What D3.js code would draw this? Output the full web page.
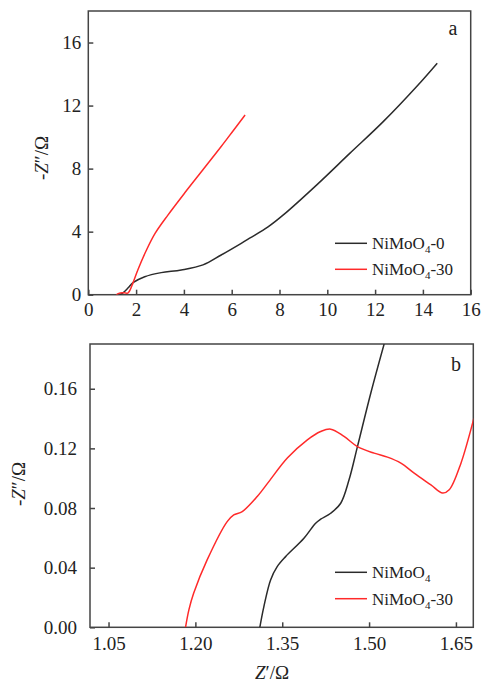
<!DOCTYPE html>
<html>
<head>
<meta charset="utf-8">
<script src="https://cdn.jsdelivr.net/npm/d3@7"></script>
<style>
  body { margin: 0; background: #fff; }
  svg text { font-family: "Liberation Serif", "DejaVu Serif", serif !important; fill: #222; }
</style>
</head>
<body>
<svg id="chart" width="481" height="685"></svg>
<script>
// panel a: full Nyquist plot
const blackAX = [1.31, 1.45, 1.66, 1.87, 2.36, 3.05, 3.89, 4.8, 5.56, 6.4, 6.77, 7.52, 8.16, 9.56, 10.95, 12.34, 13.74, 14.6];
const blackAY = [0, 0.12, 0.42, 0.76, 1.14, 1.4, 1.57, 1.89, 2.52, 3.26, 3.6, 4.3, 5.06, 6.97, 8.98, 10.98, 13.21, 14.69];
const redAX = [1.18, 1.25, 1.43, 1.55, 1.63, 1.68, 1.75, 1.87, 2.08, 2.43, 2.8, 3.33, 4.03, 4.73, 5.56, 6.07, 6.56];
const redAY = [0, 0.07, 0.13, 0.11, 0.09, 0.14, 0.3, 0.75, 1.6, 2.82, 3.9, 5.05, 6.45, 7.8, 9.4, 10.42, 11.4];
const ticksAX = [0, 2, 4, 6, 8, 10, 12, 14, 16];
const ticksAY = [0, 4, 8, 12, 16];
const legendA = ['NiMoO4-0', 'NiMoO4-30'];

// panel b: high frequency zoom
const blackBX = [1.3113, 1.3183, 1.3299, 1.3413, 1.3558, 1.3875, 1.4077, 1.4164, 1.4337, 1.451, 1.4654, 1.4799, 1.5029, 1.526];
const blackBY = [0, 0.0139, 0.0318, 0.0407, 0.0474, 0.0597, 0.0698, 0.0725, 0.0765, 0.0832, 0.0989, 0.1212, 0.157, 0.19];
const redBX = [1.183, 1.189, 1.197, 1.2203, 1.2549, 1.2663, 1.2809, 1.3068, 1.3269, 1.3588, 1.3934, 1.4164, 1.4337, 1.4567, 1.4799, 1.5087, 1.5318, 1.5549, 1.5779, 1.6068, 1.627, 1.6384, 1.6587, 1.6789, 1.681];
const redBY = [0, 0.012, 0.0228, 0.0452, 0.0709, 0.0754, 0.0776, 0.0877, 0.0977, 0.1135, 0.1257, 0.1313, 0.1329, 0.128, 0.1212, 0.1168, 0.1141, 0.1101, 0.1034, 0.0955, 0.09, 0.0922, 0.1101, 0.137, 0.14];
const ticksBX = [1.05, 1.20, 1.35, 1.50, 1.65];
const ticksBY = [0, 0.04, 0.08, 0.12, 0.16];
const legendB = ['NiMoO4', 'NiMoO4-30'];

const colors = ['#2b2b2b', '#ff2a2a'];
const serif = '"Liberation Serif", "DejaVu Serif", serif';
const svg = d3.select('#chart');

function zip(xs, ys) {
  return xs.map((x, i) => [x, ys[i]]);
}

// legend text with subscript 4
function chemText(sel, label) {
  let parts = label.split('4');
  sel.append('tspan').text(parts[0]);
  sel.append('tspan').attr('font-size', 11).attr('dy', 4).text('4');
  sel.append('tspan').attr('dy', -4).text(parts[1]);
}

function drawPanel(opt) {
  let x = d3.scaleLinear().domain(opt.xDomain).range([opt.left, opt.right]);
  let y = d3.scaleLinear().domain(opt.yDomain).range([opt.bottom, opt.top]);
  let g = svg.append('g');

  g.append('clipPath').attr('id', opt.id + '-clip')
    .append('rect')
    .attr('x', opt.left).attr('y', opt.top)
    .attr('width', opt.right - opt.left).attr('height', opt.bottom - opt.top);

  // inward ticks
  let xAxis = g.append('g')
    .attr('transform', 'translate(0,' + opt.bottom + ')')
    .call(d3.axisBottom(x).tickValues(opt.xTicks).tickSizeInner(-5).tickSizeOuter(0)
      .tickFormat(opt.xFormat).tickPadding(opt.xPad));
  let yAxis = g.append('g')
    .attr('transform', 'translate(' + opt.left + ',0)')
    .call(d3.axisLeft(y).tickValues(opt.yTicks).tickSizeInner(-5).tickSizeOuter(0)
      .tickFormat(opt.yFormat).tickPadding(opt.yPad));
  [xAxis, yAxis].forEach(a => {
    a.attr('font-family', serif).attr('font-size', 19);
    a.select('.domain').remove();
    a.selectAll('line').attr('stroke', '#444').attr('stroke-width', 1.5);
    a.selectAll('text').attr('fill', '#222').style('font-family', serif);
  });

  g.append('rect')
    .attr('x', opt.left).attr('y', opt.top)
    .attr('width', opt.right - opt.left).attr('height', opt.bottom - opt.top)
    .attr('fill', 'none').attr('stroke', '#444').attr('stroke-width', 1.5);

  let line = d3.line()
    .x(d => x(d[0]))
    .y(d => y(d[1]))
    .curve(d3.curveCatmullRom.alpha(0.5));

  g.append('g').attr('clip-path', 'url(#' + opt.id + '-clip)')
    .selectAll('path')
    .data(opt.series)
    .enter()
    .append('path')
    .attr('d', d => line(d))
    .attr('fill', 'none')
    .attr('stroke', (d, i) => colors[i])
    .attr('stroke-width', 1.5);

  // legend
  opt.legend.forEach((label, i) => {
    let ly = opt.legendY + i * opt.legendGap;
    g.append('line')
      .attr('x1', 335).attr('x2', 367).attr('y1', ly).attr('y2', ly)
      .attr('stroke', colors[i]).attr('stroke-width', 1.5);
    let t = g.append('text').attr('x', 372).attr('y', ly + 6).attr('font-size', 17);
    chemText(t, label);
  });

  g.append('text')
    .attr('x', opt.letterX).attr('y', opt.letterY)
    .attr('text-anchor', 'middle').attr('font-size', 20)
    .text(opt.letter);

  // y title
  let yt = g.append('text')
    .attr('transform', 'translate(' + opt.yTitleX + ',' + opt.yTitleY + ') rotate(-90)')
    .attr('text-anchor', 'middle').attr('font-size', 19);
  yt.append('tspan').text('-');
  yt.append('tspan').attr('font-style', 'italic').text('Z');
  yt.append('tspan').text('\u2033/\u03a9');
}

drawPanel({
  id: 'a',
  left: 88.3, right: 470.7, top: 11, bottom: 294.7,
  xDomain: [0, 16], yDomain: [0, 18],
  xTicks: ticksAX, yTicks: ticksAY,
  xFormat: d3.format('d'), yFormat: d3.format('d'),
  xPad: 8, yPad: 7,
  series: [zip(blackAX, blackAY), zip(redAX, redAY)],
  legend: legendA, legendY: 243.3, legendGap: 26,
  letter: 'a', letterX: 453, letterY: 35,
  yTitleX: 48, yTitleY: 158
});

drawPanel({
  id: 'b',
  left: 90, right: 473.3, top: 344, bottom: 627.3,
  xDomain: [1.018, 1.68], yDomain: [0, 0.19],
  xTicks: ticksBX, yTicks: ticksBY,
  xFormat: d3.format('.2f'), yFormat: d3.format('.2f'),
  xPad: 9, yPad: 13,
  series: [zip(blackBX, blackBY), zip(redBX, redBY)],
  legend: legendB, legendY: 572.3, legendGap: 26.4,
  letter: 'b', letterX: 456, letterY: 371,
  yTitleX: 25, yTitleY: 484
});

// x title, bottom panel only
let xt = svg.append('text')
  .attr('x', 272).attr('y', 679)
  .attr('text-anchor', 'middle').attr('font-size', 19);
xt.append('tspan').attr('font-style', 'italic').text('Z');
xt.append('tspan').text('\u2032/\u03a9');
</script>
</body>
</html>
